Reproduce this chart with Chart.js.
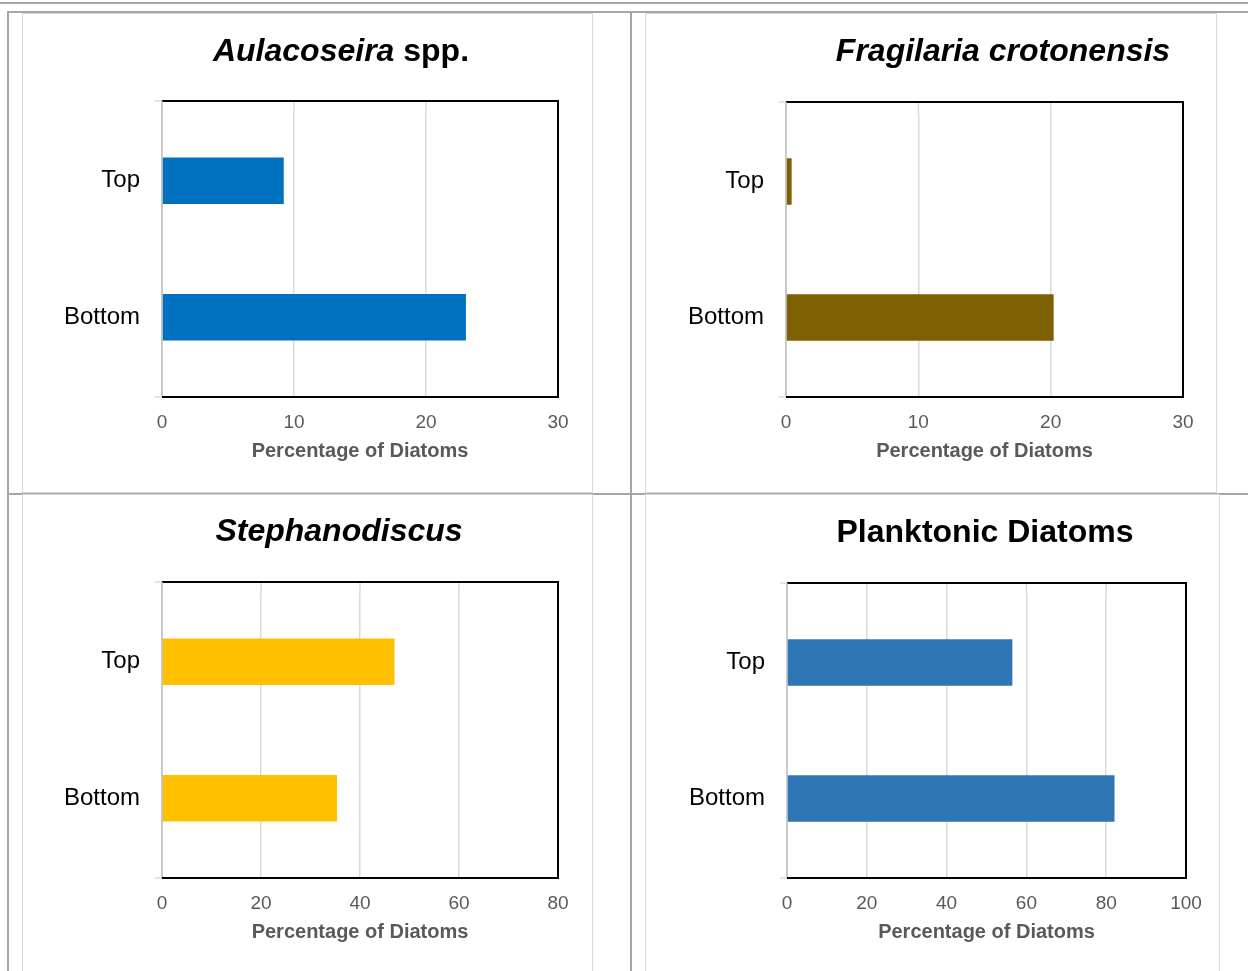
<!DOCTYPE html>
<html>
<head>
<meta charset="utf-8">
<script src="https://cdn.jsdelivr.net/npm/chart.js@4.4.0/dist/chart.umd.min.js"></script>
<style>
    html, body { margin: 0; padding: 0; background: #fff; width: 1248px; height: 971px; overflow: hidden; position: relative; font-family: "Liberation Sans", Arial, sans-serif; }
    .hl, .vl { position: absolute; background: #a6a6a6; }
    .panel { position: absolute; background: #fff; border: 1px solid #d9d9d9; box-sizing: border-box; width: 572px; height: 480px; }
    .panel canvas { position: absolute; left: 0; top: 0; }
</style>
</head>
<body>

<!-- grille du tableur en arrière-plan -->
<div class="hl" style="left:0; top:2px; width:1248px; height:2px;"></div>
<div class="hl" style="left:8px; top:11px; width:1240px; height:2px;"></div>
<div class="hl" style="left:8px; top:493px; width:1240px; height:2px;"></div>
<div class="vl" style="left:7px; top:11px; width:2px; height:960px;"></div>
<div class="vl" style="left:630px; top:11px; width:2px; height:960px;"></div>

<div class="panel" style="left:22px; top:13px; width:571px;"><canvas id="c1"></canvas></div>
<div class="panel" style="left:645px; top:13px; width:572px;"><canvas id="c2"></canvas></div>
<div class="panel" style="left:22px; top:494px; width:571px;"><canvas id="c3"></canvas></div>
<div class="panel" style="left:645px; top:494px; width:575px;"><canvas id="c4"></canvas></div>

<script>
// ===== DONNÉES =====

const categories = ['Top', 'Bottom'];

const aulacoseira = [9.2, 23.0];
const fragilaria = [0.4, 20.2];
const stephanodiscus = [46.9, 35.3];
const planktonic = [56.4, 82.0];

const axisMax = [30, 30, 80, 100];
const axisStep = [10, 10, 20, 20];

const axisTitle = 'Percentage of Diatoms';

// titres : morceaux [texte, italique]
const titleAulacoseira = [['Aulacoseira', true], [' spp.', false]];
const titleFragilaria = [['Fragilaria crotonensis', true]];
const titleStephanodiscus = [['Stephanodiscus', true]];
const titlePlanktonic = [['Planktonic Diatoms', false]];

// marge entre le cadre et la zone des catégories
const INSET = 11.5;

// ===== PLUGINS =====

// titre avec mélange italique / normal
const richTitle = {
    id: 'richTitle',
    afterDraw(chart, args, opts) {
        const ctx = chart.ctx;
        const parts = opts.parts || [];
        const size = opts.size || 30;
        const fontOf = (it) => `${it ? 'italic ' : ''}bold ${size}px "Liberation Sans", Arial, sans-serif`;
        let total = 0;
        parts.forEach(p => { ctx.font = fontOf(p[1]); total += ctx.measureText(p[0]).width; });
        let x = opts.x - total / 2;
        ctx.save();
        ctx.fillStyle = '#000';
        ctx.textBaseline = 'middle';
        ctx.textAlign = 'left';
        parts.forEach(p => {
            ctx.font = fontOf(p[1]);
            ctx.fillText(p[0], x, opts.y);
            x += ctx.measureText(p[0]).width;
        });
        ctx.restore();
    }
};

// cadre de la zone de tracé (un peu plus haut que la zone des catégories)
const plotFrame = {
    id: 'plotFrame',
    beforeDatasetsDraw(chart) {
        const { ctx, chartArea: a, scales } = chart;
        const top = a.top - INSET;
        const bottom = a.bottom + INSET;
        ctx.save();
        // prolongement du quadrillage vers le haut (le bas = graduations de l'axe)
        ctx.strokeStyle = '#d9d9d9';
        ctx.lineWidth = 1.5;
        scales.x.ticks.forEach((t, i) => {
            const x = scales.x.getPixelForTick(i);
            ctx.beginPath();
            ctx.moveTo(x, top);
            ctx.lineTo(x, a.top);
            ctx.stroke();
        });
        // petites graduations à gauche
        ctx.beginPath();
        ctx.moveTo(a.left - 7, top);
        ctx.lineTo(a.left, top);
        ctx.moveTo(a.left - 7, bottom);
        ctx.lineTo(a.left, bottom);
        ctx.stroke();
        ctx.restore();
    },
    afterDatasetsDraw(chart) {
        const { ctx, chartArea: a } = chart;
        const top = a.top - INSET;
        const bottom = a.bottom + INSET;
        ctx.save();
        ctx.strokeStyle = '#000';
        ctx.lineWidth = 2;
        ctx.beginPath();
        ctx.moveTo(a.left, top);
        ctx.lineTo(a.right, top);
        ctx.lineTo(a.right, bottom);
        ctx.lineTo(a.left, bottom);
        ctx.stroke();
        ctx.strokeStyle = '#bfbfbf';
        ctx.lineWidth = 1.5;
        ctx.beginPath();
        ctx.moveTo(a.left, top);
        ctx.lineTo(a.left, bottom - 1);
        ctx.stroke();
        ctx.restore();
    }
};

// ===== CONSTRUCTION DES GRAPHIQUES =====

const makeChart = (canvasId, w, values, color, max, step, title, titleX, layout) => {
    const canvas = document.getElementById(canvasId);
    canvas.width = w;
    canvas.height = 480;
    canvas.style.width = w + 'px';
    canvas.style.height = '480px';

    return new Chart(canvas, {
        type: 'bar',
        data: {
            labels: categories,
            datasets: [{
                data: values,
                backgroundColor: color,
                borderWidth: 0,
                barThickness: 46
            }]
        },
        options: {
            indexAxis: 'y',
            responsive: false,
            animation: false,
            devicePixelRatio: 1,
            layout: { padding: { top: layout.top + INSET, right: w - layout.right, left: 0, bottom: 0 } },
            plugins: {
                legend: { display: false },
                tooltip: { enabled: false },
                richTitle: { parts: title, x: titleX, y: layout.titleY, size: 32 }
            },
            scales: {
                x: {
                    min: 0,
                    max: max,
                    ticks: {
                        stepSize: step,
                        color: '#595959',
                        padding: 14,
                        font: { family: '"Liberation Sans", Arial, sans-serif', size: 19 }
                    },
                    grid: { color: '#d9d9d9', lineWidth: 1.5, drawTicks: true, tickLength: INSET },
                    border: { display: false },
                    title: {
                        display: true,
                        text: axisTitle,
                        color: '#595959',
                        font: { family: '"Liberation Sans", Arial, sans-serif', size: 20, weight: 'bold' },
                        padding: { top: 0, bottom: 31 }
                    },
                    afterFit: (scale) => { scale.height = 480 - (layout.bottom - INSET); }
                },
                y: {
                    ticks: {
                        color: '#000',
                        padding: 14,
                        font: { family: '"Liberation Sans", Arial, sans-serif', size: 24 }
                    },
                    grid: { display: false },
                    border: { display: false },
                    afterFit: (scale) => { scale.width = layout.left; }
                }
            }
        },
        plugins: [richTitle, plotFrame]
    });
};

makeChart('c1', 571, aulacoseira, '#0070c0', axisMax[0], axisStep[0], titleAulacoseira, 318,
    { left: 139, top: 87, right: 535, bottom: 383, titleY: 38 });
makeChart('c2', 572, fragilaria, '#7f6000', axisMax[1], axisStep[1], titleFragilaria, 357,
    { left: 140, top: 88, right: 537, bottom: 383, titleY: 38 });
makeChart('c3', 571, stephanodiscus, '#ffc000', axisMax[2], axisStep[2], titleStephanodiscus, 316,
    { left: 139, top: 87, right: 535, bottom: 383, titleY: 37 });
makeChart('c4', 575, planktonic, '#2e75b6', axisMax[3], axisStep[3], titlePlanktonic, 339,
    { left: 141, top: 88, right: 540, bottom: 383, titleY: 38 });
</script>
</body>
</html>
